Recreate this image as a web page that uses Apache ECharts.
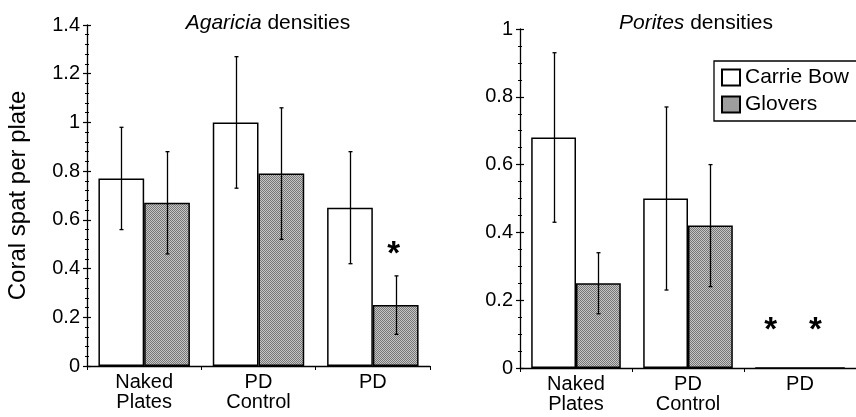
<!DOCTYPE html>
<html>
<head>
<meta charset="utf-8">
<script src="https://cdn.jsdelivr.net/npm/echarts@6/dist/echarts.min.js"></script>
<style>html,body{margin:0;padding:0;background:#fff;}#c{width:856px;height:417px;}</style>
</head>
<body>
<div id="c"></div>
<script>
// ---- data ----
const categories = ['Naked\nPlates', 'PD\nControl', 'PD'];
const seriesNames = ['Carrie Bow', 'Glovers'];

const agariciaCarrie = [0.77, 1.00, 0.65];
const agariciaCarrieLow = [0.56, 0.73, 0.42];
const agariciaCarrieHigh = [0.98, 1.27, 0.88];
const agariciaGlovers = [0.67, 0.79, 0.25];
const agariciaGloversLow = [0.46, 0.52, 0.13];
const agariciaGloversHigh = [0.88, 1.06, 0.37];
const agariciaCarrieSig = [false, false, false];
const agariciaGloversSig = [false, false, true];

const poritesCarrie = [0.68, 0.50, 0];
const poritesCarrieLow = [0.43, 0.23, null];
const poritesCarrieHigh = [0.93, 0.77, null];
const poritesGlovers = [0.25, 0.42, 0];
const poritesGloversLow = [0.16, 0.24, null];
const poritesGloversHigh = [0.34, 0.60, null];
const poritesCarrieSig = [false, false, true];
const poritesGloversSig = [false, false, true];

const agariciaTicks = { min: 0, max: 1.4, interval: 0.2 };
const poritesTicks = { min: 0, max: 1, interval: 0.2 };

// ---- styling ----
const FONT = '"Liberation Sans", Arial, Helvetica, sans-serif';
const pat = document.createElement('canvas');
pat.width = 2; pat.height = 2;
(function () {
  const g = pat.getContext('2d');
  g.fillStyle = '#c6c6c6'; g.fillRect(0, 0, 2, 2);
  g.fillStyle = '#767676'; g.fillRect(0, 0, 1, 1); g.fillRect(1, 1, 1, 1);
})();
const gloversFill = { image: pat, repeat: 'repeat' };

function barSeries(name, xi, yi, values, sig, fill, sigOffset) {
  return {
    type: 'bar', name: name, xAxisIndex: xi, yAxisIndex: yi,
    barGap: '0%', barCategoryGap: '20%',
    itemStyle: { color: fill, borderColor: '#000', borderWidth: 1.5 },
    emphasis: { disabled: true },
    data: values.map(function (v, i) {
      if (!sig[i]) return v;
      return {
        value: v,
        label: {
          show: true, position: 'top', formatter: '*', distance: 0,
          offset: sigOffset, fontFamily: FONT, fontWeight: 'bold', fontSize: 33, color: '#000'
        }
      };
    })
  };
}

function errSeries(xi, yi, lows, highs, side) {
  const data = [];
  lows.forEach(function (l, i) { if (l != null) data.push([i, l, highs[i]]); });
  return {
    type: 'custom', name: 'err', xAxisIndex: xi, yAxisIndex: yi, z: 10,
    data: data,
    renderItem: function (params, api) {
      const band = api.size([1, 0])[0];
      const off = side * band * 0.8 / 4;
      const lo = api.coord([api.value(0), api.value(1)]);
      const hi = api.coord([api.value(0), api.value(2)]);
      const x = Math.round(lo[0] + off) + 0.5;
      const st = { stroke: '#000', lineWidth: 1.3 };
      const c = 2;
      return {
        type: 'group', children: [
          { type: 'line', shape: { x1: x, y1: lo[1], x2: x, y2: hi[1] }, style: st },
          { type: 'line', shape: { x1: x - c, y1: lo[1], x2: x + c, y2: lo[1] }, style: st },
          { type: 'line', shape: { x1: x - c, y1: hi[1], x2: x + c, y2: hi[1] }, style: st }
        ]
      };
    }
  };
}

function xAxisCfg(gi) {
  return {
    type: 'category', gridIndex: gi, data: categories,
    axisLine: { lineStyle: { color: '#000', width: 1.3 } },
    axisTick: { show: true, inside: false, length: 4, lineStyle: { color: '#000' } },
    axisLabel: { color: '#000', fontFamily: FONT, fontSize: 20, lineHeight: 20, margin: 6 },
    splitLine: { show: false }
  };
}
function yAxisCfg(gi, t, split, inner, name) {
  return {
    type: 'value', gridIndex: gi, position: 'left', offset: 0,
    min: t.min, max: t.max, interval: t.interval,
    name: inner ? '' : name,
    nameLocation: 'middle', nameGap: 57, nameRotate: 90,
    nameTextStyle: { color: '#000', fontFamily: FONT, fontSize: 24 },
    axisLine: { show: !inner, lineStyle: { color: '#000', width: 1.3 } },
    axisTick: { show: true, inside: inner, length: 4, lineStyle: { color: '#000', width: 1.2 } },
    minorTick: { show: true, splitNumber: split, length: 2, lineStyle: { color: '#000', width: 1 } },
    axisLabel: { show: !inner, color: '#000', fontFamily: FONT, fontSize: 20, margin: 7 },
    splitLine: { show: false }
  };
}

const chart = echarts.init(document.getElementById('c'), null, { renderer: 'canvas' });
chart.setOption({
  animation: false,
  backgroundColor: '#fff',
  title: [
    { text: '{i|Agaricia} densities', left: 263, top: 8, textAlign: 'center',
      textStyle: { color: '#000', fontFamily: FONT, fontSize: 21, fontWeight: 'normal',
        rich: { i: { fontStyle: 'italic', fontFamily: FONT, fontSize: 21, color: '#000' } } } },
    { text: '{i|Porites} densities', left: 691, top: 8, textAlign: 'center',
      textStyle: { color: '#000', fontFamily: FONT, fontSize: 21, fontWeight: 'normal',
        rich: { i: { fontStyle: 'italic', fontFamily: FONT, fontSize: 21, color: '#000' } } } }
  ],
  legend: {
    data: seriesNames, orient: 'vertical', left: 714, top: 61, width: 200, icon: 'rect',
    padding: [6, 40, 6, 7], itemGap: 6, itemWidth: 18, itemHeight: 16,
    borderColor: '#000', borderWidth: 1.3, borderRadius: 0,
    selectedMode: false,
    textStyle: { color: '#000', fontFamily: FONT, fontSize: 21 }
  },
  grid: [
    { left: 87, right: 426, top: 25, bottom: 51 },
    { left: 520, right: -4, top: 29, bottom: 49 }
  ],
  xAxis: [xAxisCfg(0), xAxisCfg(1)],
  yAxis: [
    yAxisCfg(0, agariciaTicks, 5, false, 'Coral spat per plate'),
    yAxisCfg(0, agariciaTicks, 5, true, ''),
    yAxisCfg(1, poritesTicks, 4, false, ''),
    yAxisCfg(1, poritesTicks, 4, true, '')
  ],
  series: [
    barSeries('Carrie Bow', 0, 0, agariciaCarrie, agariciaCarrieSig, '#fff', [-2, -34]),
    barSeries('Glovers', 0, 0, agariciaGlovers, agariciaGloversSig, gloversFill, [-2, -34]),
    barSeries('Carrie Bow', 1, 2, poritesCarrie, poritesCarrieSig, '#fff', [-7, -20]),
    barSeries('Glovers', 1, 2, poritesGlovers, poritesGloversSig, gloversFill, [-7, -20]),
    errSeries(0, 0, agariciaCarrieLow, agariciaCarrieHigh, -1),
    errSeries(0, 0, agariciaGloversLow, agariciaGloversHigh, 1),
    errSeries(1, 2, poritesCarrieLow, poritesCarrieHigh, -1),
    errSeries(1, 2, poritesGloversLow, poritesGloversHigh, 1)
  ]
});
</script>
</body>
</html>
